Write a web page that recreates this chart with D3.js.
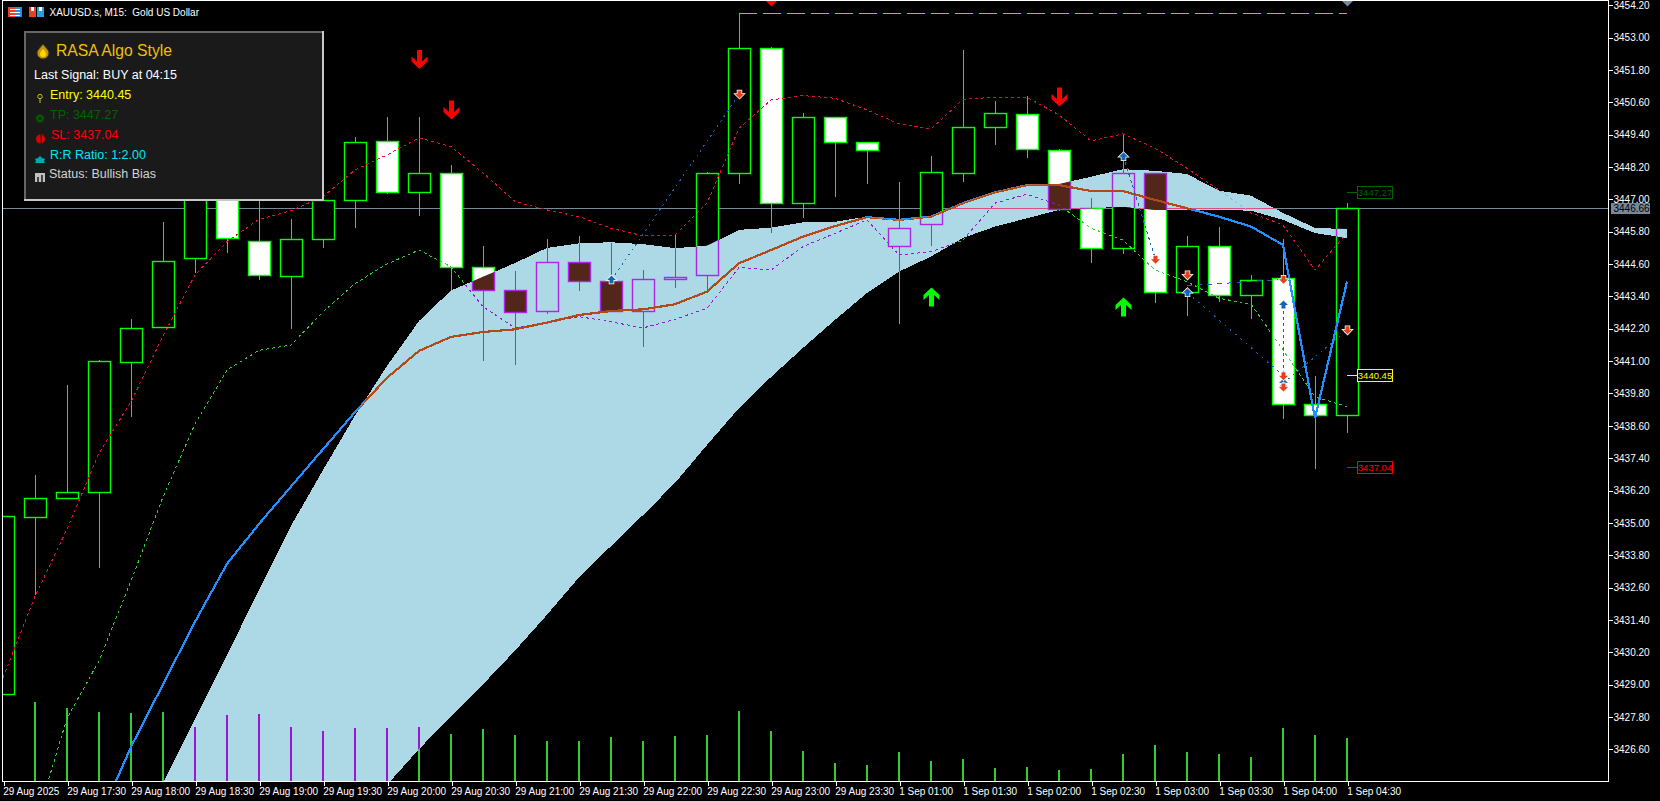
<!DOCTYPE html>
<html>
<head>
  <title>XAUUSD.s M15</title>
  <script src="https://d3js.org/d3.v7.min.js"></script>
  <style>
    html, body { margin: 0; padding: 0; background: #000; overflow: hidden; }
    svg { display: block; font-family: "Liberation Sans", Arial, sans-serif; }
  </style>
</head>
<body>
  <svg width="1660" height="801"></svg>

  <script>
    // candles, one per 15 minutes
    const opens = [3428.62,3435.20,3435.91,3436.12,3440.97,3442.23,3444.78,3448.28,3445.45,3444.16,3445.52,3446.97,3449.16,3447.26,3447.97,3444.48,3443.63,3442.84,3444.67,3443.96,3442.85,3444.04,3444.17,3447.97,3452.61,3446.86,3450.05,3449.12,3445.25,3446.08,3447.95,3449.66,3450.16,3448.81,3446.66,3445.17,3447.95,3443.54,3445.26,3443.43,3444.07,3439.40,3438.98];
    const highs = [3435.22,3436.79,3440.12,3441.04,3442.56,3446.16,3448.83,3448.60,3447.35,3446.27,3447.30,3449.32,3450.06,3450.06,3448.28,3445.27,3444.34,3445.53,3445.63,3445.38,3444.37,3445.71,3448.01,3453.90,3452.65,3450.21,3450.05,3449.12,3447.65,3448.61,3452.54,3450.65,3450.84,3448.87,3447.05,3449.39,3447.95,3445.64,3445.98,3444.20,3445.53,3440.45,3446.87];
    const lows = [3428.62,3432.33,3435.91,3433.31,3438.91,3442.23,3444.27,3445.02,3444.01,3442.21,3445.21,3445.95,3447.19,3446.40,3443.64,3441.02,3440.87,3442.76,3443.61,3442.84,3441.54,3443.73,3443.58,3447.57,3445.77,3446.31,3447.10,3447.58,3442.39,3445.28,3447.66,3449.03,3448.55,3446.58,3444.65,3444.99,3443.17,3442.68,3443.21,3442.58,3438.86,3437.00,3438.34];
    const closes = [3435.22,3435.92,3436.14,3440.99,3442.22,3444.69,3448.28,3445.52,3444.18,3445.52,3446.97,3449.12,3447.26,3447.97,3444.50,3443.61,3442.80,3444.67,3443.95,3442.84,3444.04,3444.11,3447.97,3452.61,3446.86,3450.05,3449.12,3448.82,3445.93,3448.01,3449.67,3450.19,3448.86,3446.63,3445.17,3447.95,3443.54,3445.26,3443.43,3444.00,3439.40,3438.98,3446.66];
    const volumes = [0,792,734,694,684,694,545,660,673,545,504,535,535,545,474,525,464,403,400,440,400,450,460,700,500,300,180,160,290,200,220,130,140,110,120,270,360,290,270,240,530,460,430];

    // moving average and the two dashed bands
    const maLine = [null,null,null,3423.98,3426.69,3429.01,3431.33,3433.48,3434.96,3436.35,3437.73,3439.11,3440.38,3441.38,3441.90,3442.08,3442.18,3442.43,3442.71,3442.86,3442.92,3443.11,3443.58,3444.63,3445.12,3445.62,3446.01,3446.34,3446.24,3446.36,3446.86,3447.26,3447.53,3447.53,3447.31,3447.31,3446.98,3446.67,3446.36,3445.99,3445.31,3438.88,3443.95];
    const upperBand = [3429.26,3432.27,3434.77,3437.59,3439.49,3441.93,3444.20,3445.43,3446.26,3446.58,3447.10,3448.09,3448.65,3449.28,3448.96,3447.98,3446.92,3446.61,3446.36,3445.93,3445.65,3445.68,3446.86,3449.64,3450.69,3450.85,3450.75,3450.32,3449.80,3449.61,3450.71,3450.79,3450.79,3450.13,3449.17,3449.43,3448.90,3448.15,3447.35,3446.50,3446.05,3444.38,3445.75];
    const lowerBand = [null,3423.80,3427.75,3429.88,3432.85,3435.96,3438.67,3440.67,3441.40,3441.60,3442.82,3443.88,3444.60,3445.12,3444.50,3443.02,3442.23,3442.42,3442.65,3442.46,3442.23,3442.55,3442.96,3444.47,3444.38,3445.25,3445.74,3446.24,3444.94,3445.06,3445.49,3446.86,3447.19,3446.79,3445.93,3445.49,3444.38,3443.95,3443.33,3443.12,3441.41,3439.68,3439.31];

    // light blue cloud
    const ribbonTop = [null,null,null,null,null,3425.35,3427.73,3430.10,3432.51,3434.89,3436.96,3438.98,3440.82,3442.49,3443.62,3444.13,3444.64,3445.20,3445.37,3445.41,3445.34,3445.19,3445.28,3445.87,3445.95,3446.15,3446.17,3446.36,3446.22,3446.38,3446.88,3447.29,3447.56,3447.57,3447.84,3448.12,3448.06,3447.94,3447.32,3447.14,3446.50,3445.94,3445.90];
    const ribbonBottom = [null,null,null,null,null,3424.00,3424.00,3424.00,3424.00,3424.00,3424.00,3424.00,3425.28,3426.61,3427.80,3429.01,3430.26,3431.59,3432.98,3434.14,3435.29,3436.48,3437.89,3439.26,3440.41,3441.49,3442.53,3443.53,3444.32,3444.88,3445.57,3445.99,3446.30,3446.61,3446.67,3446.73,3446.61,3446.61,3446.61,3446.58,3446.24,3445.75,3445.57];

    // signal arrows
    const sellArrowBars = [13,14,33];
    const sellArrowPrices = [3452.19,3450.32,3450.80];
    const buyArrowBars = [29,35];
    const buyArrowPrices = [3443.38,3443.01];

    // trade lines and their small markers
    const tradeFromBars = [19,35,37,37,40,40];
    const tradeFromPrices = [3444.01,3448.58,3443.79,3443.54,3443.08,3440.19];
    const tradeToBars = [23,36,40,40,40,42];
    const tradeToPrices = [3450.91,3444.78,3444.04,3440.46,3440.19,3442.16];
    const tradeDash = ["2 4","3 3","5 5","2 5","3 3","2 4"];
    const entryBars = [19,35,37,40,40,40];
    const entryPrices = [3444.01,3448.58,3443.54,3443.08,3440.19,3440.04];
    const exitBars = [23,36,37,40,40,40,42];
    const exitPrices = [3450.91,3444.78,3444.20,3444.04,3440.46,3440.04,3442.16];

    const lastPrice = 3446.66;
    const entryPrice = 3440.45, tpPrice = 3447.27, slPrice = 3437.04;
    const highLinePrice = 3453.90, highLineFrom = 23, highLineTo = 42;

    const yTicks = [3454.20,3453.00,3451.80,3450.60,3449.40,3448.20,3447.00,3445.80,3444.60,3443.40,3442.20,3441.00,3439.80,3438.60,3437.40,3436.20,3435.00,3433.80,3432.60,3431.40,3430.20,3429.00,3427.80,3426.60];
    const xLabels = ["29 Aug 2025","29 Aug 17:30","29 Aug 18:00","29 Aug 18:30","29 Aug 19:00","29 Aug 19:30","29 Aug 20:00","29 Aug 20:30","29 Aug 21:00","29 Aug 21:30","29 Aug 22:00","29 Aug 22:30","29 Aug 23:00","29 Aug 23:30","1 Sep 01:00","1 Sep 01:30","1 Sep 02:00","1 Sep 02:30","1 Sep 03:00","1 Sep 03:30","1 Sep 04:00","1 Sep 04:30"];

    const plot = { left: 2.5, top: 0.5, right: 1608.5, bottom: 781.5 };
    const svg = d3.select("svg");
    const bars = d3.range(opens.length);

    const xScale = d3.scaleLinear().domain([0, 42]).range([3, 1347]);
    const yScale = d3.scaleLinear().domain([3454.2, 3426.6]).range([5.3, 749.3]);
    const volScale = d3.scaleLinear().domain([0, 800]).range([781, 701]);
    const px = v => Math.floor(v) + 0.5;

    const lightBlue = "#add8e6";
    // the terminal paints the cloud in XOR mode, so anything under it changes colour
    function xorColor(c) {
      const r = d3.rgb(c), b = d3.rgb(lightBlue);
      return d3.rgb(r.r ^ b.r, r.g ^ b.g, r.b ^ b.b).formatHex();
    }

    const defs = svg.append("defs");
    defs.append("clipPath").attr("id", "plotClip").append("rect")
      .attr("x", plot.left).attr("y", plot.top)
      .attr("width", plot.right - plot.left).attr("height", plot.bottom - plot.top);

    const ribbonArea = d3.area()
      .defined(i => ribbonTop[i] !== null)
      .x(i => xScale(i))
      .y0(i => yScale(ribbonBottom[i]))
      .y1(i => yScale(ribbonTop[i]));
    defs.append("clipPath").attr("id", "ribbonClip").append("path").attr("d", ribbonArea(bars));

    const line = arr => d3.line().defined(i => arr[i] !== null)
      .x(i => xScale(i)).y(i => yScale(arr[i]))(bars);

    // everything that sits under the cloud, drawn twice: plain and XORed inside it
    function drawUnder(g, col) {
      g.attr("shape-rendering", "crispEdges");

      g.append("line")
        .attr("x1", plot.left).attr("x2", plot.right)
        .attr("y1", px(yScale(lastPrice))).attr("y2", px(yScale(lastPrice)))
        .attr("stroke", col("#778899"));

      g.selectAll(".vol").data(bars.filter(i => volumes[i] > 0)).enter().append("rect")
        .attr("x", i => xScale(i) - 1)
        .attr("y", i => volScale(volumes[i]))
        .attr("width", 2)
        .attr("height", i => volScale(0) - volScale(volumes[i]))
        .attr("fill", col("#32cd32"));

      g.selectAll(".wick").data(bars).enter().append("line")
        .attr("x1", i => xScale(i) + 0.5).attr("x2", i => xScale(i) + 0.5)
        .attr("y1", i => Math.round(yScale(highs[i])))
        .attr("y2", i => Math.round(yScale(lows[i])))
        .attr("stroke", col("#00ff00"));

      const isBull = i => closes[i] > opens[i];
      g.selectAll(".body").data(bars).enter().append("rect")
        .attr("x", i => xScale(i) - 10.5)
        .attr("y", i => px(yScale(Math.max(opens[i], closes[i]))))
        .attr("width", 22)
        .attr("height", i => Math.max(1, Math.round(Math.abs(yScale(opens[i]) - yScale(closes[i])))))
        .attr("fill", i => isBull(i) ? col("#000000") : col("#ffffff"))
        .attr("stroke", col("#00ff00"))
        .attr("stroke-width", 1.4)
        .attr("shape-rendering", "geometricPrecision");

      g.append("path").attr("d", line(upperBand)).attr("fill", "none")
        .attr("stroke", col("#dc143c")).attr("stroke-dasharray", "3 3");
      g.append("path").attr("d", line(lowerBand)).attr("fill", "none")
        .attr("stroke", col("#32cd32")).attr("stroke-dasharray", "3 3");
      g.append("path").attr("d", line(maLine)).attr("fill", "none")
        .attr("stroke", col("#1e90ff")).attr("stroke-width", 2.2);
    }

    const chart = svg.append("g").attr("clip-path", "url(#plotClip)");
    drawUnder(chart.append("g"), c => c);
    chart.append("path").attr("d", ribbonArea(bars)).attr("fill", lightBlue).attr("shape-rendering", "crispEdges");
    drawUnder(chart.append("g").attr("clip-path", "url(#ribbonClip)"), xorColor);

    // high line across the top
    chart.append("line")
      .attr("x1", xScale(highLineFrom)).attr("x2", xScale(highLineTo))
      .attr("y1", px(yScale(highLinePrice))).attr("y2", px(yScale(highLinePrice)))
      .attr("stroke", "#e8a020").attr("stroke-dasharray", "18 6")
      .attr("shape-rendering", "crispEdges");

    // small triangles on the top edge
    chart.append("path").attr("fill", "#ff0000")
      .attr("d", "M" + (xScale(24) - 5) + ",1 h11 l-5.5,5.5 z");
    chart.append("path").attr("fill", "#778899")
      .attr("d", "M" + (xScale(42) - 5) + ",1 h11 l-5.5,5.5 z");

    // trade lines
    chart.selectAll(".trade").data(tradeFromBars).enter().append("line")
      .attr("x1", (d, i) => xScale(tradeFromBars[i]) + 0.5)
      .attr("y1", (d, i) => yScale(tradeFromPrices[i]))
      .attr("x2", (d, i) => xScale(tradeToBars[i]) + 0.5)
      .attr("y2", (d, i) => yScale(tradeToPrices[i]))
      .attr("stroke", "#1464b4")
      .attr("stroke-dasharray", (d, i) => tradeDash[i])
      .attr("shape-rendering", "crispEdges");

    const upMark = "M0,-4.5 L4.5,0 L2,0 L2,3.5 L-2,3.5 L-2,0 L-4.5,0 Z";
    const downMark = "M0,4.5 L4.5,0 L2,0 L2,-3.5 L-2,-3.5 L-2,0 L-4.5,0 Z";
    chart.selectAll(".entry").data(entryBars).enter().append("path")
      .attr("d", upMark)
      .attr("transform", (d, i) => "translate(" + (xScale(entryBars[i]) + 0.5) + "," + yScale(entryPrices[i]) + ")")
      .attr("fill", "#1464b4").attr("stroke", "#ffffff").attr("stroke-width", 1.5)
      .attr("paint-order", "stroke");
    chart.selectAll(".exit").data(exitBars).enter().append("path")
      .attr("d", downMark)
      .attr("transform", (d, i) => "translate(" + (xScale(exitBars[i]) + 0.5) + "," + yScale(exitPrices[i]) + ")")
      .attr("fill", "#e8401c").attr("stroke", "#ffffff").attr("stroke-width", 1.5)
      .attr("paint-order", "stroke");

    // big signal arrows
    const upArrow = "M-2.5,9.5 L-2.5,-2 L-8,3 L-8,-2 L0,-9.5 L8,-2 L8,3 L2.5,-2 L2.5,9.5 Z";
    const downArrow = "M-2.5,-9.5 L-2.5,2 L-8,-3 L-8,2 L0,9.5 L8,2 L8,-3 L2.5,2 L2.5,-9.5 Z";
    chart.selectAll(".sell").data(sellArrowBars).enter().append("path")
      .attr("d", downArrow).attr("fill", "#ff0000")
      .attr("transform", (d, i) => "translate(" + (xScale(d) + 0.5) + "," + yScale(sellArrowPrices[i]) + ")");
    chart.selectAll(".buy").data(buyArrowBars).enter().append("path")
      .attr("d", upArrow).attr("fill", "#00ff00")
      .attr("transform", (d, i) => "translate(" + (xScale(d) + 0.5) + "," + yScale(buyArrowPrices[i]) + ")");

    // entry / tp / sl tags to the right of the last bar
    const tags = [
      { price: tpPrice, color: "#006400" },
      { price: entryPrice, color: "#ffff00" },
      { price: slPrice, color: "#ff0000" }
    ];
    tags.forEach(t => {
      const y = px(yScale(t.price));
      chart.append("line").attr("x1", xScale(42)).attr("x2", xScale(42) + 10)
        .attr("y1", y).attr("y2", y).attr("stroke", t.color).attr("shape-rendering", "crispEdges");
      chart.append("rect").attr("x", xScale(42) + 10.5).attr("y", y - 6)
        .attr("width", 35).attr("height", 12)
        .attr("fill", "#000").attr("stroke", t.color).attr("shape-rendering", "crispEdges");
      chart.append("text").attr("x", xScale(42) + 28).attr("y", y + 3.5)
        .attr("text-anchor", "middle").attr("fill", t.color)
        .style("font-size", "9.5px").text(t.price.toFixed(2));
    });

    // frame and axes
    svg.append("rect").attr("x", plot.left).attr("y", plot.top)
      .attr("width", plot.right - plot.left).attr("height", plot.bottom - plot.top)
      .attr("fill", "none").attr("stroke", "#ffffff").attr("shape-rendering", "crispEdges");

    const yAxis = svg.append("g")
      .attr("transform", "translate(" + plot.right + ",0)")
      .call(d3.axisRight(yScale).tickValues(yTicks).tickSize(4).tickPadding(1).tickFormat(d3.format(".2f")));
    const xAxis = svg.append("g")
      .attr("transform", "translate(0," + plot.bottom + ")")
      .call(d3.axisBottom(d3.scaleLinear().domain([0, xLabels.length - 1]).range([3.5, 1347.5]))
        .tickValues(d3.range(xLabels.length)).tickSize(4).tickPadding(2).tickFormat(i => xLabels[i]));
    [xAxis, yAxis].forEach(a => {
      a.select(".domain").remove();
      a.selectAll("line").attr("stroke", "#ffffff").attr("shape-rendering", "crispEdges");
      a.selectAll("text").attr("fill", "#ffffff")
        .attr("font-family", "'Liberation Sans', Arial, sans-serif").style("font-size", "10px");
    });
    xAxis.selectAll("text").attr("text-anchor", "start").attr("dx", "-0.8");

    // last price tag on the axis
    const lastY = Math.floor(yScale(lastPrice));
    svg.append("rect").attr("x", 1611).attr("y", lastY - 5).attr("width", 39).attr("height", 11).attr("fill", "#778899");
    svg.append("text").attr("x", 1613.5).attr("y", lastY + 4).attr("fill", "#000").style("font-size", "10px").text(lastPrice.toFixed(2));

    // header
    const head = svg.append("g").attr("shape-rendering", "crispEdges");
    head.append("rect").attr("x", 8).attr("y", 7).attr("width", 7).attr("height", 10).attr("fill", "#e8402a");
    head.append("rect").attr("x", 15).attr("y", 7).attr("width", 7).attr("height", 10).attr("fill", "#2a8fd8");
    head.append("rect").attr("x", 10).attr("y", 9).attr("width", 10).attr("height", 1).attr("fill", "#fff");
    head.append("rect").attr("x", 10).attr("y", 12).attr("width", 10).attr("height", 1).attr("fill", "#fff");
    head.append("rect").attr("x", 10).attr("y", 15).attr("width", 10).attr("height", 1).attr("fill", "#fff");
    head.append("rect").attr("x", 29).attr("y", 7).attr("width", 7).attr("height", 10).attr("fill", "#e8402a");
    head.append("rect").attr("x", 37).attr("y", 7).attr("width", 7).attr("height", 10).attr("fill", "#2a9fe0");
    head.append("rect").attr("x", 31).attr("y", 7).attr("width", 3).attr("height", 4).attr("fill", "#fff");
    head.append("rect").attr("x", 39).attr("y", 7).attr("width", 3).attr("height", 4).attr("fill", "#fff");
    svg.append("text").attr("x", 49.5).attr("y", 16).attr("fill", "#fff")
      .style("font-size", "10px").attr("xml:space", "preserve").text("XAUUSD.s, M15:  Gold US Dollar");

    // info panel
    const panel = svg.append("g");
    panel.append("rect").attr("x", 24).attr("y", 31).attr("width", 300).attr("height", 170).attr("fill", "#1a1a1a");
    panel.append("rect").attr("x", 24).attr("y", 31).attr("width", 300).attr("height", 2).attr("fill", "#666");
    panel.append("rect").attr("x", 24).attr("y", 31).attr("width", 2).attr("height", 170).attr("fill", "#666");
    panel.append("rect").attr("x", 322).attr("y", 31).attr("width", 2).attr("height", 170).attr("fill", "#c8c8c8");
    panel.append("rect").attr("x", 24).attr("y", 199).attr("width", 300).attr("height", 2).attr("fill", "#c8c8c8");

    const panelLines = [
      { t: "RASA Algo Style", x: 56, y: 56, size: 15.7, c: "#f0c000" },
      { t: "Last Signal: BUY at 04:15", x: 34, y: 79, size: 12.5, c: "#ffffff" },
      { t: "Entry: 3440.45", x: 50, y: 99, size: 12.5, c: "#ffff00" },
      { t: "TP: 3447.27", x: 50, y: 119, size: 12.5, c: "#006400" },
      { t: "SL: 3437.04", x: 51, y: 139, size: 12.5, c: "#ff0000" },
      { t: "R:R Ratio: 1:2.00", x: 50, y: 159, size: 12.5, c: "#00e5ff" },
      { t: "Status: Bullish Bias", x: 49, y: 178, size: 12.5, c: "#d3d3d3" }
    ];
    panel.selectAll(".ln").data(panelLines).enter().append("text")
      .attr("x", d => d.x).attr("y", d => d.y).attr("fill", d => d.c)
      .style("font-size", d => d.size + "px").text(d => d.t);

    // panel icons
    panel.append("path").attr("d", "M43,44 C46,48 49,50 49,53 A6,6 0 0 1 37,53 C37,50 40,48 43,44 Z").attr("fill", "#c89600").attr("stroke", "#333");
    panel.append("path").attr("d", "M43,49 C44.5,51 46,52 46,54 A3,3 0 0 1 40,54 C40,52 41.5,51 43,49 Z").attr("fill", "#ffd700");
    panel.append("circle").attr("cx", 40).attr("cy", 96.5).attr("r", 2.2).attr("fill", "none").attr("stroke", "#c8c800");
    panel.append("line").attr("x1", 40).attr("x2", 40).attr("y1", 99).attr("y2", 103).attr("stroke", "#c8c800");
    panel.append("circle").attr("cx", 40).attr("cy", 118.5).attr("r", 4).attr("fill", "#005a00");
    panel.append("circle").attr("cx", 40).attr("cy", 118.5).attr("r", 1.5).attr("fill", "#1a1a1a");
    panel.append("circle").attr("cx", 40.5).attr("cy", 139).attr("r", 4.5).attr("fill", "#e00000");
    panel.append("rect").attr("x", 40.5).attr("y", 135).attr("width", 1.5).attr("height", 8).attr("fill", "#400");
    panel.append("path").attr("d", "M40,156 L42,158 L45,159 L44,161 L45,163 L35,163 L36,161 L35,159 L38,158 Z").attr("fill", "#00a8b8");
    panel.append("rect").attr("x", 35).attr("y", 173).attr("width", 10).attr("height", 9).attr("fill", "#c0c0c0");
    panel.append("rect").attr("x", 37).attr("y", 177).attr("width", 2).attr("height", 5).attr("fill", "#444");
    panel.append("rect").attr("x", 41).attr("y", 175).attr("width", 2).attr("height", 7).attr("fill", "#444");
  </script>
</body>
</html>
